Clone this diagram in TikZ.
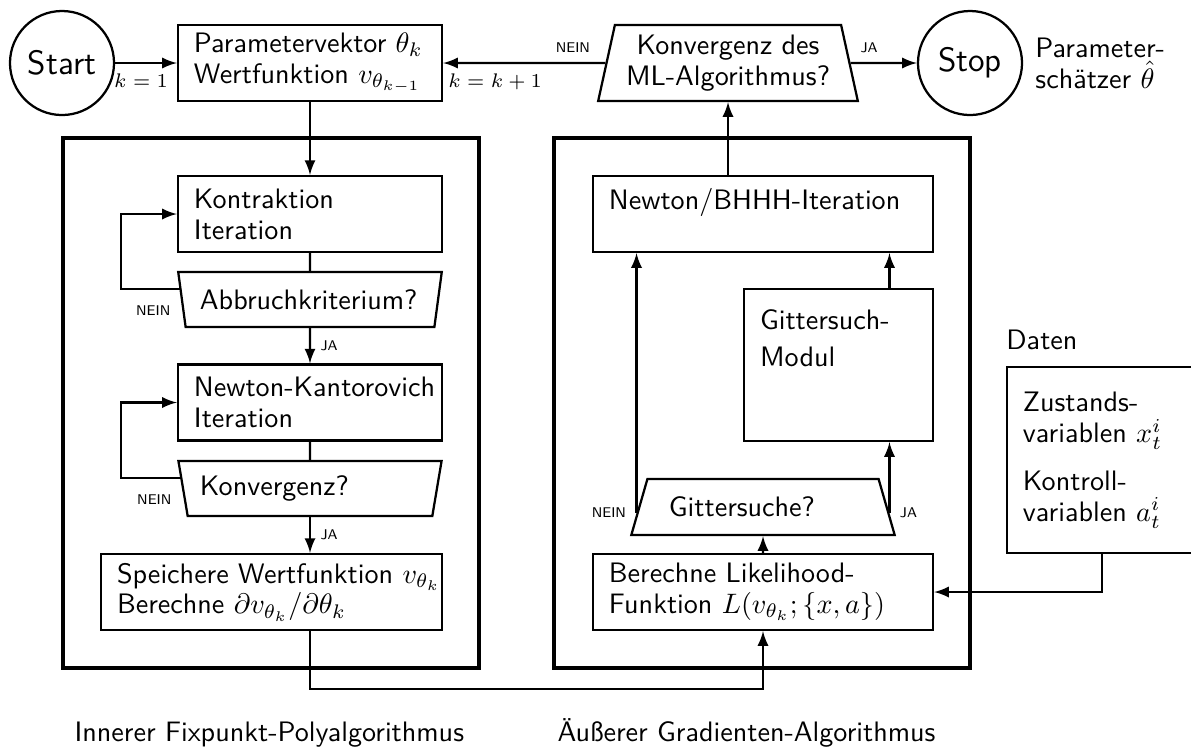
\documentclass[tikz,border=0pt]{standalone}
\usetikzlibrary{shapes.geometric,positioning,calc}
\begin{document}
\begin{tikzpicture}[x=0.0125cm, y=-0.0125cm, >=latex,
    every node/.style={font=\sffamily\fontsize{10}{11}\selectfont}]
  \tikzstyle{state} = [circle, draw, thick, minimum size=1.3cm, font=\sffamily\large]
  \tikzstyle{block} = [rectangle, draw, thick, minimum height=0.95cm, inner xsep=0.2cm, inner ysep=2pt, align=left]
  \tikzstyle{query} = [trapezium, draw, thick, trapezium stretches=true, inner sep=0pt]
  \tikzstyle{frame} = [draw, line width=1.3pt]
  \tikzstyle{transition} = [->, thick]
  \tikzstyle{answer} = [font=\sffamily\tiny]
  \clip (0,0) rectangle (1191,748);

  % top row
  \node[state] (start) at (62,63) {Start};
  \node[block, text width=2.9cm] (param) at (310,63) {Parametervektor $\theta_k$\\Wertfunktion $v_{\theta_{k-1}}$};
  \node[query, trapezium left angle=75, trapezium right angle=75, minimum width=3.25cm, minimum height=0.95cm, align=center] (ml) at (728,63) {Konvergenz des\\ML-Algorithmus?};
  \node[state] (stop) at (970,63) {Stop};
  \node[right=0.03cm of stop, align=left] (estimate) {Parameter-\\sch\"atzer $\hat\theta$};

  % frames
  \draw[frame] (63,138) rectangle (479,668);
  \draw[frame] (554,138) rectangle (970,668);

  % inner fixed point loop
  \node[block, text width=2.9cm] (kontr) at (310,214) {Kontraktion\\Iteration};
  \node[query, trapezium left angle=108, trapezium right angle=108, minimum width=3.3125cm, minimum height=0.6875cm] (abbr) at (310,299.5) {\makebox[2.75cm][l]{Abbruchkriterium?}};
  \node[block, text width=2.9cm] (nk) at (310,402.5) {\mbox{Newton-Kantorovich}\\Iteration};
  \node[query, trapezium left angle=108, trapezium right angle=108, minimum width=3.3125cm, minimum height=0.6875cm] (konv) at (310,488.5) {\makebox[2.75cm][l]{Konvergenz?}};
  \node[block, text width=3.86cm] (spei) at (271.5,592) {\mbox{Speichere Wertfunktion $v_{\theta_k}$}\\Berechne $\partial v_{\theta_k}/\partial\theta_k$};

  % outer gradient algorithm
  \node[block, text width=3.85cm] (newton) at (763,214) {Newton/BHHH-Iteration\\~};
  \node[block, text width=1.96cm, minimum height=1.9cm] (gitter) at (838.5,365) {Gittersuch-\\[2pt]Modul\\[8pt]~};
  \node[query, trapezium left angle=57, trapezium right angle=57, minimum width=3.3cm, minimum height=0.7cm] (gs) at (763,507) {\makebox[2.35cm][l]{Gittersuche?}};
  \node[block, text width=3.85cm] (lik) at (763,592) {Berechne Likelihood-\\Funktion $L(v_{\theta_k};\{x,a\})$};

  % data (right side runs off the page)
  \node[block, text width=2.2cm, minimum height=2.325cm] (data) at (1111,460) {Zustands-\\variablen $x_t^i$\\[6pt]Kontroll-\\variablen $a_t^i$};
  \node[anchor=south west, inner xsep=0pt, yshift=2pt] (datenlbl) at (data.north west) {Daten};

  % labels
  \node[anchor=base west, inner sep=0pt] (innerlbl) at (74,741) {Innerer Fixpunkt-Polyalgorithmus};
  \node[anchor=base west, inner sep=0pt] (outerlbl) at (557,741) {Äußerer Gradienten-Algorithmus};

  % connectors, top
  \draw[transition] (start) -- node[below, pos=0.42, font=\scriptsize] {$k=1$} (param);
  \draw[transition] (ml) -- node[above, pos=0.2, answer] {NEIN} node[below, pos=0.68, font=\scriptsize] {$k=k+1$} (param);
  \draw[transition] (ml) -- node[above, pos=0.28, answer] {JA} (stop);

  % connectors, inner
  \draw[transition] (param) -- (kontr);
  \draw[thick] (kontr) -- (abbr);
  \draw[transition] ([yshift=0.13cm]abbr.west) node[answer, below left, yshift=-2pt] {NEIN} -| ([xshift=-0.7cm]kontr.west) -- (kontr.west);
  \draw[transition] (abbr) -- node[right, answer] {JA} (nk);
  \draw[thick] (nk) -- (konv);
  \draw[transition] ([yshift=0.13cm]konv.west) node[answer, below left, yshift=-2pt] {NEIN} -| ([xshift=-0.7cm]nk.west) -- (nk.west);
  \draw[transition] (konv.south) -- node[right, answer] {JA} (konv.south |- spei.north);
  \draw[transition] (spei.south -| konv.south) -- ++(0,58) -| (lik.south);

  % connectors, outer
  \coordinate (gsja) at ($(gs.top right corner)!0.6!(gs.bottom right corner)$);
  \coordinate (gsnein) at ($(gs.top left corner)!0.6!(gs.bottom left corner)$);
  \draw[transition] (lik) -- (gs);
  \draw[transition] (gsja) node[answer, right] {JA} -- (gsja |- gitter.south);
  \draw[transition] (gsja |- gitter.north) -- (gsja |- newton.south);
  \draw[transition] (gsnein) node[answer, left] {NEIN} -- (gsnein |- newton.south);
  \draw[transition] (newton.north -| ml.south) -- (ml.south);
  \draw[transition] ([xshift=1.2cm]data.south west) |- (lik.east);
\end{tikzpicture}
\end{document}
